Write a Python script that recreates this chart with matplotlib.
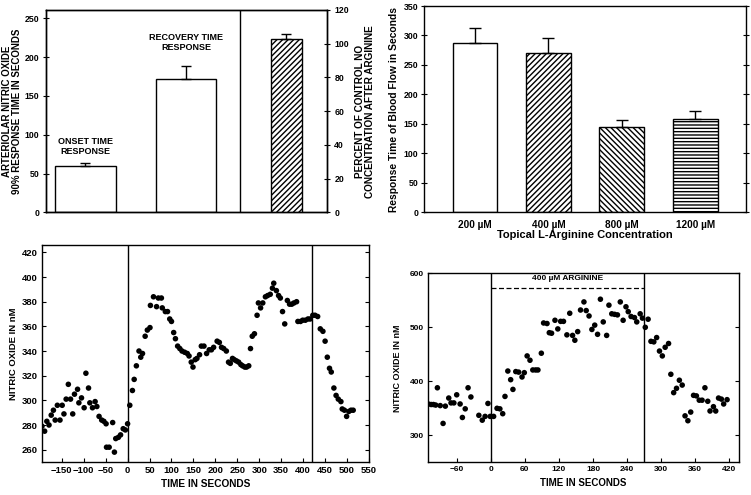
import matplotlib
matplotlib.use("Agg")
import matplotlib.pyplot as plt
import numpy as np

plt.rcParams['font.family'] = ['Liberation Sans', 'DejaVu Sans']
plt.rcParams['font.weight'] = 'bold'
plt.rcParams['axes.labelweight'] = 'bold'
plt.rcParams['hatch.linewidth'] = 1.0
plt.rcParams['axes.linewidth'] = 1.0

# ---------------- data ----------------
# Panel A (top-left)
resp_labels = ["ONSET TIME\nRESPONSE", "RECOVERY TIME\nRESPONSE"]
resp_values = [60, 172]
resp_errors = [3, 16]
pct_value = [103]
pct_error = [3]

# Panel B (top-right)
conc_labels = ["200 µM", "400 µM", "800 µM", "1200 µM"]
conc_values = [287, 270, 145, 158]
conc_errors = [26, 25, 12, 14]
conc_hatches = ["", "//////", "\\\\\\\\\\\\", "-----"]

# Panel C (bottom-left)
c_time = [-195, -189, -184, -179, -174, -169, -165, -160, -154, -149, -145, -140,
          -135, -130, -125, -121, -114, -111, -105, -99, -95, -89, -86, -80, -74,
          -70, -65, -59, -54, -49, -48, -42, -34, -30, -27, -21, -16, -10, -5, 0,
          5, 11, 15, 20, 26, 30, 34, 40, 45, 51, 52, 59, 66, 70, 77, 79, 86, 91,
          96, 100, 105, 109, 114, 119, 124, 130, 136, 140, 145, 149, 154, 158,
          164, 168, 174, 180, 186, 191, 196, 204, 209, 214, 219, 225, 230, 234,
          239, 243, 248, 253, 258, 262, 267, 271, 276, 280, 284, 289, 295, 298,
          303, 308, 314, 319, 325, 330, 333, 339, 344, 348, 353, 358, 364, 369,
          374, 379, 385, 388, 394, 399, 405, 411, 416, 422, 427, 433, 439, 445,
          450, 455, 460, 464, 470, 475, 480, 486, 489, 494, 499, 504, 509, 514]
c_no = [279, 275, 283, 280, 288, 292, 284, 296, 284, 296, 289, 301, 313, 301, 289,
        305, 309, 298, 302, 294, 322, 310, 298, 294, 299, 295, 287, 284, 283, 281,
        262, 262, 282, 258, 269, 270, 272, 277, 276, 281,
        296, 308, 317, 328, 340, 335, 338, 352, 357, 359, 377, 384, 376, 383, 383,
        375, 372, 372, 366, 364, 355, 350, 344, 342, 340, 339, 338, 336, 331, 327,
        333, 334, 337, 344, 344, 338, 341, 341, 343, 348, 347, 343, 342, 340, 331,
        330, 334, 333, 332, 331, 329, 328, 327, 327, 328, 342, 352, 354, 369, 379,
        375, 379, 384, 385, 386, 391, 395, 389, 385, 383, 372, 362, 381, 378, 378,
        379, 380, 364, 364, 365, 365, 366, 366, 369, 369, 368, 358, 356, 348, 335,
        326, 323, 310, 304, 301, 299, 293, 292, 287, 291, 292, 292]

# Panel D (bottom-right)
d_time = [-110, -105, -101, -97, -94, -89, -84, -80, -74, -70, -65, -60, -54, -50,
          -45, -40, -35, -21, -15, -10, -5, -1, 5, 11, 16, 21, 25, 30, 35, 39, 44,
          49, 55, 59, 64, 69, 74, 79, 83, 89, 93, 99, 103, 107, 113, 118, 123, 128,
          134, 139, 144, 148, 153, 158, 164, 168, 173, 178, 183, 188, 193, 198, 204,
          208, 213, 218, 223, 228, 233, 238, 242, 247, 253, 257, 263, 267, 272, 277,
          282, 287, 292, 297, 302, 307, 313, 317, 322, 327, 332, 337, 342, 347, 352,
          357, 362, 367, 372, 377, 382, 386, 392, 396, 401, 406, 410, 416]
d_no = [358, 357, 357, 356, 388, 355, 322, 354, 369, 360, 360, 375, 358, 333, 349,
        388, 371, 337, 328, 335, 359, 335, 335, 350, 349, 340, 372, 419, 403, 385,
        418, 417, 408, 416, 447, 439, 421, 421, 421, 452, 508, 507, 490, 489, 513,
        497, 511, 511, 486, 526, 485, 476, 492, 532, 547, 531, 521, 496, 504, 487,
        552, 510, 485, 541, 525, 524, 523, 547, 513, 538, 529, 520, 518, 510, 525,
        517, 500, 515, 474, 473, 481, 456, 447, 463, 470, 413, 379, 387, 402, 393,
        336, 327, 343, 374, 373, 365, 365, 388, 363, 345, 353, 345, 369, 367, 358,
        366]

W, H = 751, 495
fig = plt.figure(figsize=(W / 100, H / 100), dpi=100)

def rect(l, t, r, b):
    return [l / W, 1 - b / H, (r - l) / W, (b - t) / H]

EKW = dict(elinewidth=1.0, capthick=1.0, ecolor='black')

# ---------------- Panel A ----------------
axA = fig.add_axes(rect(45.7, 10, 326.7, 212.3))
xA = np.arange(len(resp_values))
axA.bar(xA, resp_values, width=0.60, color='white', edgecolor='black', linewidth=1.0,
        yerr=[np.zeros(len(resp_errors)), resp_errors], capsize=3.5,
        error_kw=EKW, zorder=2)
axA.set_xlim(-0.395, 2.40)
axA.set_ylim(0, 260.7)
axA.set_yticks([0, 50, 100, 150, 200, 250])
axA.set_xticks([])
axA.axvline(1.54, color='black', linewidth=1.0)
axA.tick_params(axis='y', direction='inout', length=5, labelsize=6.3, pad=2)
axA.set_ylabel("ARTERIOLAR NITRIC OXIDE\n90% RESPONSE TIME IN SECONDS", fontsize=7.0,
               linespacing=1.05, labelpad=2)
axA.text(0, 85, resp_labels[0], ha='center', va='center', fontsize=6.5, fontweight='bold',
         linespacing=1.15)
axA.text(1, 219, resp_labels[1], ha='center', va='center', fontsize=6.5, fontweight='bold',
         linespacing=1.15)
axA2 = axA.twinx()
axA2.bar([2], pct_value, width=0.31, color='white', edgecolor='black', linewidth=1.0,
         hatch='//////', yerr=[[0], pct_error], capsize=3.5, error_kw=EKW, zorder=2)
axA2.set_ylim(0, 120)
axA2.set_yticks([0, 20, 40, 60, 80, 100, 120])
axA2.tick_params(axis='y', direction='inout', length=5, labelsize=6.3, pad=3)
axA2.set_ylabel("PERCENT OF CONTROL NO\nCONCENTRATION AFTER ARGININE", fontsize=7.2,
                linespacing=1.05, labelpad=4)

# ---------------- Panel B ----------------
axB = fig.add_axes(rect(424.3, 6, 746, 212))
xB = np.arange(len(conc_values))
for i in range(len(conc_values)):
    axB.bar(xB[i], conc_values[i], width=0.61, color='white', edgecolor='black',
            linewidth=1.0, hatch=conc_hatches[i], yerr=[[0], [conc_errors[i]]], capsize=4.5,
            error_kw=EKW, zorder=2)
axB.set_xlim(-0.69, 3.69)
axB.set_ylim(0, 350)
axB.set_yticks(np.arange(0, 351, 50))
axB.set_xticks(xB)
axB.set_xticklabels(conc_labels)
axB.tick_params(axis='x', length=0, labelsize=7.2, pad=6)
axB.tick_params(axis='y', direction='inout', length=5, labelsize=6.3, pad=2, right=True)
axB.set_xlabel("Topical L-Arginine Concentration", fontsize=8.0, labelpad=0)
axB.set_ylabel("Response Time of Blood Flow in Seconds", fontsize=7.4, labelpad=3)

# ---------------- Panel C ----------------
axC = fig.add_axes(rect(42, 245, 369, 462))
axC.scatter(c_time, c_no, s=16, color='black', edgecolors='none', zorder=3)
axC.set_xlim(-195, 550)
axC.set_ylim(250, 426)
axC.set_xticks(np.arange(-150, 551, 50))
axC.set_yticks(np.arange(260, 421, 20))
axC.axvline(0, color='black', linewidth=1.0)
axC.axvline(420, color='black', linewidth=1.0)
axC.tick_params(direction='in', length=3, labelsize=6.8, pad=3, right=True)
axC.set_xlabel("TIME IN SECONDS", fontsize=7.3, labelpad=3)
axC.set_ylabel("NITRIC OXIDE IN nM", fontsize=6.8, labelpad=3)

# ---------------- Panel D ----------------
axD = fig.add_axes(rect(428.3, 273.3, 739, 462.3))
axD.scatter(d_time, d_no, s=16, color='black', edgecolors='none', zorder=3)
axD.set_xlim(-110, 437)
axD.set_ylim(250, 600)
axD.set_xticks(np.arange(-60, 421, 60))
axD.set_yticks([300, 400, 500, 600])
axD.axvline(0, color='black', linewidth=1.0)
axD.axvline(270, color='black', linewidth=1.0)
axD.plot([0, 270], [573, 573], color='black', linestyle=(0, (4, 2)), linewidth=0.9)
axD.text(135, 590, "400 µM ARGININE", ha='center', va='center', fontsize=6.0,
         fontweight='bold')
axD.tick_params(direction='in', length=3, labelsize=6.0, pad=3, right=True)
axD.set_xlabel("TIME IN SECONDS", fontsize=7.0, labelpad=3)
axD.set_ylabel("NITRIC OXIDE IN nM", fontsize=6.5, labelpad=6)

fig.savefig("out.png", dpi=100)
